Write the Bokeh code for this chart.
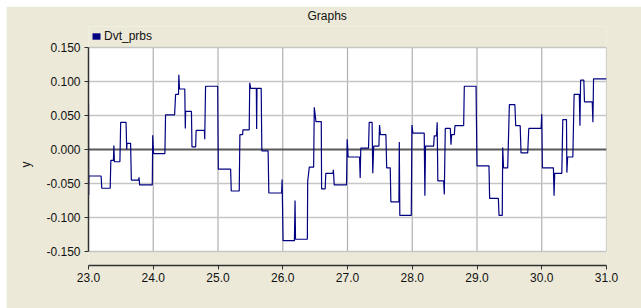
from bokeh.plotting import figure
from bokeh.models import (Range1d, FixedTicker, PrintfTickFormatter, BoxAnnotation,
                          Legend, LegendItem, ColumnDataSource, Title)
from bokeh.embed import file_html
from bokeh.resources import INLINE

# ---------------- data ----------------
title_text = "Graphs"
series_name = "Dvt_prbs"
y_label = "y"
x_ticks = [23.0, 24.0, 25.0, 26.0, 27.0, 28.0, 29.0, 30.0, 31.0]
y_ticks = [-0.15, -0.10, -0.05, 0.0, 0.05, 0.10, 0.15]

t_vals = [
    23.000, 23.003, 23.006, 23.195, 23.205, 23.335, 23.345, 23.385, 23.392, 23.400,
    23.485, 23.497, 23.580, 23.590, 23.595, 23.650, 23.662, 23.775, 23.780, 23.790,
    23.985, 23.992, 24.005, 24.180, 24.190, 24.330, 24.345, 24.390, 24.395, 24.405,
    24.487, 24.495, 24.500, 24.590, 24.598, 24.655, 24.662, 24.790, 24.795, 24.808,
    24.995, 25.005, 25.195, 25.205, 25.328, 25.338, 25.380, 25.385, 25.482, 25.490,
    25.505, 25.592, 25.597, 25.602, 25.667, 25.677, 25.774, 25.785, 25.982, 25.990,
    26.005, 26.180, 26.190, 26.197, 26.380, 26.385, 26.410, 26.477, 26.487, 26.513,
    26.595, 26.600, 26.655, 26.665, 26.775, 26.782, 26.795, 26.985, 26.995, 27.010,
    27.186, 27.196, 27.205, 27.325, 27.335, 27.380, 27.390, 27.405, 27.485, 27.495,
    27.508, 27.593, 27.605, 27.660, 27.670, 27.794, 27.800, 27.808, 27.985, 27.995,
    28.010, 28.185, 28.195, 28.205, 28.330, 28.340, 28.375, 28.385, 28.395, 28.485,
    28.495, 28.510, 28.588, 28.598, 28.608, 28.650, 28.660, 28.794, 28.804, 28.985,
    29.000, 29.185, 29.195, 29.330, 29.340, 29.390, 29.397, 29.410, 29.474, 29.500,
    29.585, 29.598, 29.667, 29.680, 29.783, 29.800, 29.990, 30.000, 30.010, 30.180,
    30.190, 30.200, 30.310, 30.325, 30.382, 30.388, 30.400, 30.480, 30.500, 30.580,
    30.590, 30.600, 30.650, 30.660, 30.780, 30.790, 30.800, 31.000,
]
y_vals = [
    0.067, -0.067, -0.039, -0.039, -0.057, -0.057, -0.016, -0.016, 0.006, -0.018,
    -0.018, 0.040, 0.040, 0.000, 0.009, 0.009, -0.045, -0.045, -0.041, -0.052,
    -0.052, 0.021, -0.006, -0.006, 0.051, 0.051, 0.081, 0.081, 0.110, 0.089,
    0.089, 0.031, 0.056, 0.056, 0.004, 0.004, 0.028, 0.028, 0.015, 0.093,
    0.093, -0.029, -0.029, -0.061, -0.061, 0.022, 0.022, 0.029, 0.029, 0.098,
    0.090, 0.090, 0.030, 0.090, 0.090, -0.002, -0.002, -0.064, -0.064, -0.044,
    -0.134, -0.134, -0.075, -0.132, -0.132, -0.047, -0.026, -0.026, 0.062, 0.041,
    0.041, -0.058, -0.058, -0.035, -0.035, -0.030, -0.052, -0.052, 0.015, -0.011,
    -0.011, -0.042, 0.002, 0.002, 0.040, 0.040, -0.035, 0.005, 0.005, 0.036,
    0.022, 0.022, -0.027, -0.027, -0.077, -0.077, 0.011, -0.097, -0.097, 0.036,
    0.024, 0.024, -0.068, 0.005, 0.005, 0.020, 0.020, 0.040, -0.046, -0.046,
    -0.066, 0.031, 0.031, 0.007, 0.022, 0.022, 0.035, 0.035, 0.093, 0.093,
    -0.024, -0.024, -0.072, -0.072, -0.097, -0.097, 0.003, -0.027, -0.027, 0.066,
    0.066, 0.035, 0.035, -0.005, -0.005, 0.031, 0.031, 0.052, -0.027, -0.027,
    -0.068, -0.035, -0.035, 0.044, 0.044, -0.034, -0.011, -0.011, 0.081, 0.081,
    0.035, 0.102, 0.102, 0.070, 0.070, 0.040, 0.104, 0.104,
]

# ---------------- styling / layout ----------------
BG = "#ECE9D8"
NAVY = "#000080"
FONT = "Liberation Sans"
WHITE_H = 204      # px, height of the white plotting area
TOP_GAP = 21       # px of beige band (holding the legend) above the white area
BOTTOM_GAP = 14    # px of beige band between the white area and the x axis
px_per_unit = WHITE_H / (y_ticks[-1] - y_ticks[0])
y_top = y_ticks[-1] + TOP_GAP / px_per_unit
y_bottom = y_ticks[0] - BOTTOM_GAP / px_per_unit

p = figure(width=635, height=302, output_backend="svg", toolbar_location=None,
           x_range=Range1d(x_ticks[0], x_ticks[-1]),
           y_range=Range1d(y_bottom, y_top),
           min_border_left=82, min_border_right=35, min_border_top=20,
           min_border_bottom=43,
           background_fill_color=BG, border_fill_color=BG,
           outline_line_color=None)
p.margin = (6, 0, 0, 6)

p.grid.visible = False

# white plotting area
p.add_layout(BoxAnnotation(left=x_ticks[0], right=x_ticks[-1],
                           bottom=y_ticks[0], top=y_ticks[-1],
                           fill_color="white", fill_alpha=1.0,
                           line_color=None, level="underlay"))

# grid lines
gx = x_ticks[1:]
p.segment(x0=gx, x1=gx, y0=[y_ticks[0]] * len(gx), y1=[y_ticks[-1]] * len(gx),
          line_color="#b0b0b0", line_width=1.2)
gy = [v for v in y_ticks if v != 0.0]
p.segment(x0=[x_ticks[0]] * len(gy), x1=[x_ticks[-1]] * len(gy), y0=gy, y1=gy,
          line_color="#c6c6c6", line_width=1.4)
p.segment(x0=[x_ticks[0]], x1=[x_ticks[-1]], y0=[0.0], y1=[0.0],
          line_color="#5a5a5a", line_width=1.8)

# data
src = ColumnDataSource(dict(t=t_vals, y=y_vals))
p.line("t", "y", source=src, line_color=NAVY, line_width=1.2)

# legend swatch renderer: a zero-area quad at the first sample, it only
# provides the filled legend glyph
swatch = p.quad(left=t_vals[:1], right=t_vals[:1], top=y_vals[:1],
                bottom=y_vals[:1], fill_color=NAVY, line_color=None)
legend = Legend(items=[LegendItem(label=series_name, renderers=[swatch])],
                location=(3, WHITE_H + BOTTOM_GAP + 4),
                glyph_width=10, glyph_height=8, label_standoff=3,
                padding=0, margin=0, spacing=0, label_height=12,
                border_line_color=None, background_fill_alpha=0,
                label_text_font=FONT, label_text_font_size="12px",
                label_text_color="#111111")
p.add_layout(legend)

# axes
p.xaxis.ticker = FixedTicker(ticks=x_ticks)
p.xaxis.formatter = PrintfTickFormatter(format="%.1f")
p.yaxis.ticker = FixedTicker(ticks=y_ticks)
p.yaxis.formatter = PrintfTickFormatter(format="%.3f")
p.yaxis.bounds = (y_ticks[0], y_ticks[-1])
for ax in p.axis:
    ax.major_tick_in = 0
    ax.major_tick_out = 4
    ax.minor_tick_in = 0
    ax.minor_tick_out = 0
    ax.axis_line_color = "#303030"
    ax.axis_line_width = 1.5
    ax.major_tick_line_color = "#303030"
    ax.major_label_text_font = FONT
    ax.major_label_text_font_size = "12px"
    ax.major_label_text_color = "#111111"
    ax.major_label_standoff = 3
p.yaxis.major_label_standoff = 4

# y axis title, placed on the left side so it can be positioned along the axis
p.add_layout(Title(text=y_label, align="left", offset=98,
                   vertical_align="middle", standoff=20,
                   text_font=FONT, text_font_size="12px",
                   text_font_style="normal", text_color="#111111"), "left")

# title
p.title.text = title_text
p.title.align = "left"
p.title.offset = 219
p.title.vertical_align = "top"
p.title.standoff = 4
p.title.text_font = FONT
p.title.text_font_size = "12px"
p.title.text_font_style = "normal"
p.title.text_color = "#111111"

open("out.html", "w").write(file_html(p, INLINE))
